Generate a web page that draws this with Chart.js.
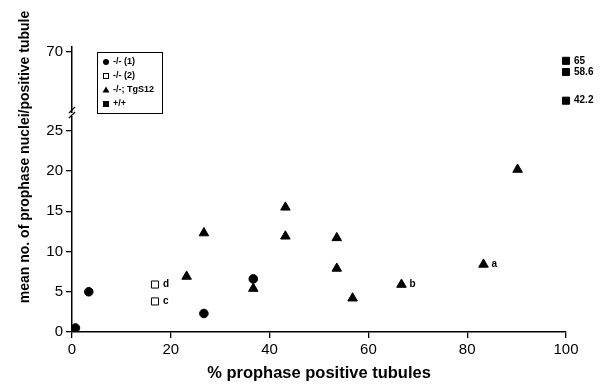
<!DOCTYPE html>
<html lang="en">
<head>
<meta charset="UTF-8" />
<title>Prophase nuclei per positive tubule</title>
<style>
    body { margin: 0; background: #fff; }
    #wrap { width: 607px; height: 390px; position: relative; }
</style>
</head>
<body>
<div id="wrap"><canvas id="chart"></canvas></div>
<script src="https://cdn.jsdelivr.net/npm/chart.js"></script>
<script>
    // -/- (1): filled circles
    const ko1X = [0.7, 3.4, 26.7, 36.7];
    const ko1Y = [0.5, 5.0, 2.3, 6.6];
    // -/- (2): open squares
    const ko2X = [16.8, 16.8];
    const ko2Y = [5.9, 3.8];
    const ko2Tags = ['d', 'c'];
    // -/-; TgS12: filled triangles
    const tgX = [26.7, 23.2, 36.7, 43.2, 43.2, 53.6, 53.6, 56.8, 66.7, 83.3, 90.2];
    const tgY = [12.3, 6.9, 5.4, 15.5, 11.9, 11.7, 7.9, 4.2, 5.9, 8.4, 20.2];
    const tgTags = ['', '', '', '', '', '', '', '', 'b', 'a', ''];
    // +/+: filled squares, upper (broken) axis
    const wtX = [100, 100, 100];
    const wtY = [65, 58.6, 42.2];
    const wtTags = ['65', '58.6', '42.2'];

    const xTicks = [0, 20, 40, 60, 80, 100];
    const lowerTicks = [0, 5, 10, 15, 20, 25];
    const upperTicks = [70];

    const toPts = (xs, ys) => xs.map((x, i) => ({ x: x, y: ys[i] }));

    // labels next to single points
    const tagPlugin = {
        id: 'tags',
        afterDatasetsDraw(chart) {
            const ctx = chart.ctx;
            ctx.save();
            ctx.fillStyle = '#000';
            ctx.font = 'bold 10px "Liberation Sans", Arial, sans-serif';
            ctx.textBaseline = 'middle';
            chart.data.datasets.forEach((ds, i) => {
                if (!ds.tags) return;
                chart.getDatasetMeta(i).data.forEach((el, j) => {
                    if (ds.tags[j]) ctx.fillText(ds.tags[j], el.x + 8, el.y);
                });
            });
            ctx.restore();
        }
    };

    // boxed legend inside the plot, top left
    const boxLegend = {
        id: 'boxLegend',
        afterDraw(chart) {
            const ctx = chart.ctx;
            ctx.save();
            ctx.strokeStyle = '#000';
            ctx.lineWidth = 1;
            ctx.strokeRect(97.5, 52.5, 65, 61);
            ctx.font = 'bold 9px "Liberation Sans", Arial, sans-serif';
            ctx.textBaseline = 'middle';
            chart.data.datasets.forEach((ds, i) => {
                const x = 106, y = 62 + i * 14;
                ctx.fillStyle = '#000';
                ctx.beginPath();
                if (ds.pointStyle === 'circle') {
                    ctx.arc(x, y, 3, 0, Math.PI * 2);
                    ctx.fill();
                } else if (ds.pointStyle === 'triangle') {
                    ctx.moveTo(x, y - 3.5);
                    ctx.lineTo(x + 3.5, y + 2.5);
                    ctx.lineTo(x - 3.5, y + 2.5);
                    ctx.closePath();
                    ctx.fill();
                } else if (ds.backgroundColor === '#fff') {
                    ctx.strokeRect(x - 2.5, y - 2.5, 5, 5);
                } else {
                    ctx.fillRect(x - 3, y - 3, 6, 6);
                }
                ctx.fillText(ds.label, 113, y);
            });
            ctx.restore();
        }
    };

    // axis break marks between the two y ranges, plus the y title
    const breakMarks = {
        id: 'breakMarks',
        afterDraw(chart) {
            const ctx = chart.ctx;
            const x = chart.chartArea.left;
            const yb = chart.scales.y.top;
            ctx.save();
            ctx.fillStyle = '#fff';
            ctx.fillRect(x - 2, yb - 1, 4, 3);
            ctx.strokeStyle = '#000';
            ctx.lineWidth = 1.3;
            ctx.beginPath();
            ctx.moveTo(x - 3, yb - 1);
            ctx.lineTo(x + 3, yb - 7);
            ctx.moveTo(x - 3, yb + 4);
            ctx.lineTo(x + 3, yb - 2);
            ctx.stroke();
            ctx.font = 'bold 14px "Liberation Sans", Arial, sans-serif';
            ctx.fillStyle = '#000';
            ctx.textAlign = 'center';
            ctx.textBaseline = 'middle';
            ctx.translate(25, 157);
            ctx.rotate(-Math.PI / 2);
            ctx.fillText('mean no. of prophase nuclei/positive tubule', 0, 0);
            ctx.restore();
        }
    };

    const axisLook = {
        grid: { display: true, drawOnChartArea: false, drawTicks: true, tickLength: 6, color: '#000', lineWidth: 1.3 },
        border: { display: true, color: '#000', width: 1.5 },
        ticks: { color: '#000', font: { family: '"Liberation Sans", Arial, sans-serif', size: 15 }, padding: 3 }
    };

    new Chart(document.getElementById('chart'), {
        type: 'scatter',
        data: {
            datasets: [
                { label: '-/- (1)', data: toPts(ko1X, ko1Y), pointStyle: 'circle', pointRadius: 4.3,
                  backgroundColor: '#000', borderColor: '#000', borderWidth: 1 },
                { label: '-/- (2)', data: toPts(ko2X, ko2Y), tags: ko2Tags, pointStyle: 'rect', pointRadius: 5,
                  backgroundColor: '#fff', borderColor: '#000', borderWidth: 1 },
                { label: '-/-; TgS12', data: toPts(tgX, tgY), tags: tgTags, pointStyle: 'triangle', pointRadius: 5.5,
                  backgroundColor: '#000', borderColor: '#000', borderWidth: 1 },
                { label: '+/+', data: toPts(wtX, wtY), tags: wtTags, yAxisID: 'y2', pointStyle: 'rect', pointRadius: 5,
                  backgroundColor: '#000', borderColor: '#000', borderWidth: 1, clip: false }
            ]
        },
        options: {
            responsive: true,
            maintainAspectRatio: false,
            animation: false,
            layout: { padding: { top: 47, right: 41, left: 0, bottom: 0 } },
            plugins: { legend: { display: false }, tooltip: { enabled: false } },
            scales: {
                x: {
                    type: 'linear', position: 'bottom', min: 0, max: 100,
                    afterBuildTicks: s => { s.ticks = xTicks.map(v => ({ value: v })); },
                    afterFit: s => { s.height = 58; },
                    grid: axisLook.grid, border: axisLook.border, ticks: axisLook.ticks,
                    title: { display: true, text: '% prophase positive tubules', color: '#000',
                             font: { family: '"Liberation Sans", Arial, sans-serif', size: 16.5, weight: 'bold' },
                             padding: { top: 0, bottom: 7 } }
                },
                y: {
                    type: 'linear', position: 'left', min: 0, max: 27.1,
                    stack: 'yy', stackWeight: 218,
                    afterBuildTicks: s => { s.ticks = lowerTicks.map(v => ({ value: v })); },
                    afterFit: s => { s.width = 72; },
                    grid: axisLook.grid, border: axisLook.border, ticks: axisLook.ticks
                },
                y2: {
                    type: 'linear', position: 'left', min: 34.6, max: 72.9,
                    stack: 'yy', stackWeight: 67,
                    afterBuildTicks: s => { s.ticks = upperTicks.map(v => ({ value: v })); },
                    afterFit: s => { s.width = 72; },
                    grid: axisLook.grid, border: axisLook.border, ticks: axisLook.ticks
                }
            }
        },
        plugins: [tagPlugin, boxLegend, breakMarks]
    });
</script>
</body>
</html>
